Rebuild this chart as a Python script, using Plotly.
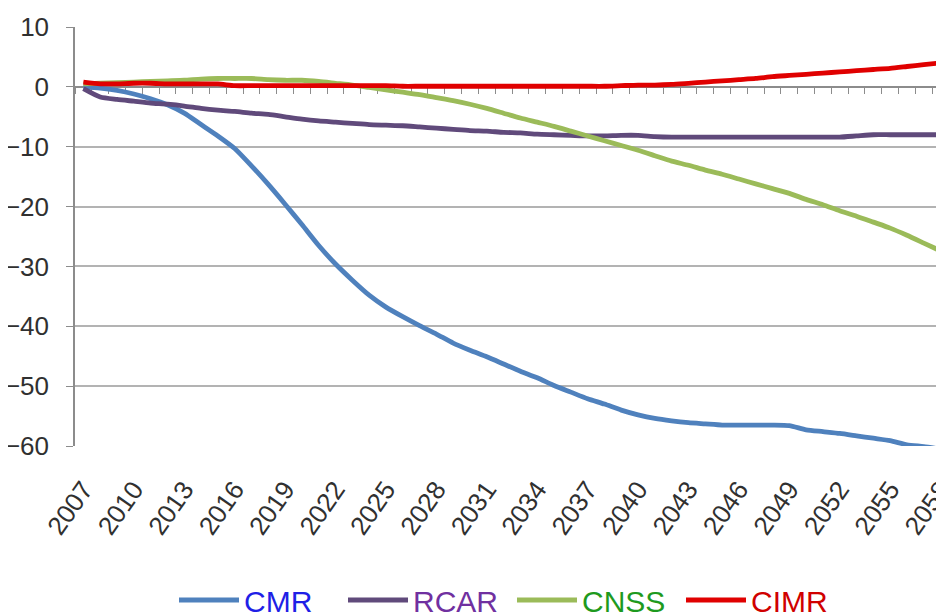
import plotly.graph_objects as go

years = list(range(2007, 2059))

cmr = [0.0, -0.2, -0.6, -1.2, -2.0, -3.0, -4.4, -6.3, -8.2, -10.3,
       -13.2, -16.3, -19.6, -23.0, -26.5, -29.6, -32.3, -34.8, -36.8, -38.4,
       -39.9, -41.3, -42.8, -44.0, -45.1, -46.3, -47.5, -48.6, -49.9, -51.0,
       -52.1, -53.0, -54.0, -54.8, -55.4, -55.8, -56.1, -56.3, -56.5, -56.5,
       -56.5, -56.5, -56.6, -57.3, -57.6, -57.9, -58.3, -58.7, -59.1, -59.8,
       -60.1, -60.5]

rcar = [-0.3, -1.7, -2.1, -2.4, -2.7, -2.9, -3.2, -3.6, -3.9, -4.1,
        -4.4, -4.6, -5.0, -5.4, -5.7, -5.9, -6.1, -6.3, -6.4, -6.5,
        -6.7, -6.9, -7.1, -7.3, -7.4, -7.6, -7.7, -7.9, -8.0, -8.1,
        -8.2, -8.2, -8.1, -8.1, -8.3, -8.4, -8.4, -8.4, -8.4, -8.4,
        -8.4, -8.4, -8.4, -8.4, -8.4, -8.4, -8.2, -8.0, -8.0, -8.0,
        -8.0, -8.0]

cnss = [0.5, 0.6, 0.7, 0.8, 0.9, 1.0, 1.1, 1.3, 1.4, 1.4,
        1.4, 1.2, 1.1, 1.1, 0.9, 0.6, 0.3, -0.1, -0.5, -0.9,
        -1.3, -1.8, -2.3, -2.9, -3.6, -4.4, -5.2, -5.9, -6.6, -7.4,
        -8.2, -9.0, -9.8, -10.6, -11.5, -12.4, -13.1, -13.9, -14.6, -15.4,
        -16.2, -17.0, -17.8, -18.8, -19.7, -20.7, -21.6, -22.6, -23.6, -24.8,
        -26.1, -27.4]

cimr = [0.8, 0.5, 0.5, 0.6, 0.6, 0.5, 0.5, 0.5, 0.5, 0.2,
        0.2, 0.2, 0.2, 0.2, 0.2, 0.2, 0.2, 0.2, 0.2, 0.1,
        0.1, 0.1, 0.1, 0.1, 0.1, 0.1, 0.1, 0.1, 0.1, 0.1,
        0.1, 0.1, 0.2, 0.3, 0.3, 0.4, 0.6, 0.8, 1.0, 1.2,
        1.4, 1.7, 1.9, 2.1, 2.3, 2.5, 2.7, 2.9, 3.1, 3.4,
        3.7, 4.0]

tick_years = years[::3]
tick_labels = [str(y) for y in tick_years]
y_ticks = [10, 0, -10, -20, -30, -40, -50, -60]

series = [
    ("CMR", cmr, "#4f81bd", "#1f1fe6"),
    ("RCAR", rcar, "#604a7b", "#7030a0"),
    ("CNSS", cnss, "#9bbb59", "#1e9a1e"),
    ("CIMR", cimr, "#e00000", "#d00000"),
]

FONT = "Liberation Sans, Arial, sans-serif"
GRID = "#b3b3b3"
AXIS = "#8c8c8c"
XR = [2006.5, 2058.5]

fig = go.Figure()
for name, vals, col, tcol in series:
    fig.add_trace(go.Scatter(
        x=years, y=vals, mode="lines",
        name=f"<span style='color:{tcol}'>{name}</span>",
        line=dict(color=col, width=4.8, shape="spline", smoothing=0.6),
        hoverinfo="skip",
    ))

# invisible trace to host the zero-crossing category axis
fig.add_trace(go.Scatter(
    x=years, y=cimr, xaxis="x2", mode="lines",
    line=dict(color="rgba(0,0,0,0)"), showlegend=False, hoverinfo="skip",
))

fig.update_layout(
    width=944, height=616,
    margin=dict(l=67, r=3, t=19, b=178, autoexpand=False),
    paper_bgcolor="white", plot_bgcolor="white",
    font=dict(family=FONT, color="#404040"),
    showlegend=True,
    legend=dict(
        orientation="h", x=0.5, xanchor="center", y=-0.3675, yanchor="middle",
        font=dict(family=FONT, size=30), itemwidth=60, tracegroupgap=0,
        entrywidth=94, entrywidthmode="pixels",
        bgcolor="rgba(0,0,0,0)",
    ),
    xaxis=dict(
        range=XR, showgrid=False, zeroline=False, showline=False, automargin=False,
        tickmode="array", tickvals=tick_years, ticktext=tick_labels,
        tickangle=-55, ticks="", ticklabelstandoff=22, ticklabeloverflow="allow",
        tickfont=dict(family=FONT, size=26, color="#303030"),
    ),
    xaxis2=dict(
        range=XR, overlaying="x", anchor="free", position=60 / 70, automargin=False,
        showgrid=False, zeroline=False, showline=True, linecolor=AXIS, linewidth=1.5,
        ticks="outside", ticklen=6, tickcolor=AXIS, tickwidth=1,
        tickmode="linear", tick0=2006.5, dtick=1, showticklabels=False,
        layer="below traces",
    ),
    yaxis=dict(
        range=[-60, 10], tickmode="array", tickvals=y_ticks, automargin=False,
        showgrid=True, gridcolor=GRID, gridwidth=1.5,
        zeroline=False, showline=True, linecolor=AXIS, linewidth=1.5,
        ticks="outside", ticklen=7, tickcolor=AXIS,
        ticklabelstandoff=12,
        tickfont=dict(family=FONT, size=26, color="#303030"),
    ),
)

fig.write_html("out.html")
